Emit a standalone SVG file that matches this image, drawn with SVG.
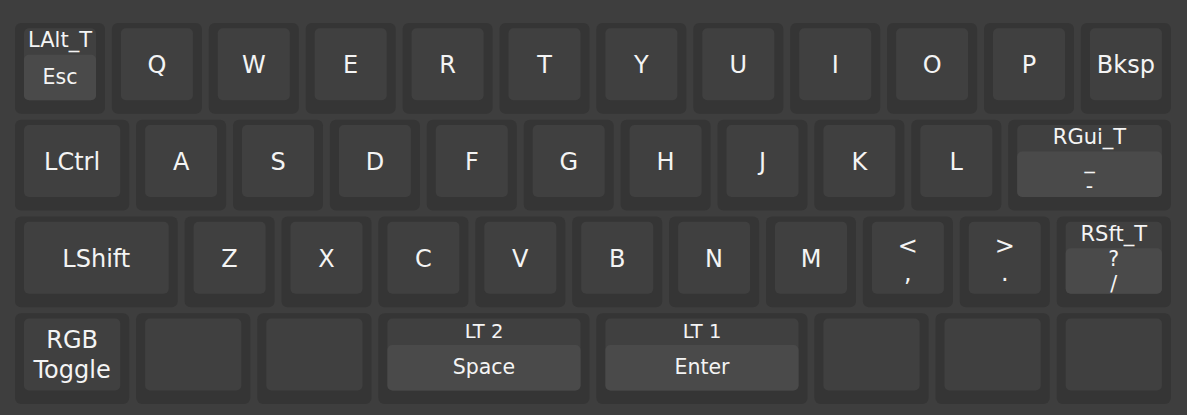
<svg xmlns="http://www.w3.org/2000/svg" width="1187" height="415" viewBox="0 0 1187 415">
<style>
.bg{fill:#3e3e3e}
.ko{fill:#353535}
.ki{fill:#404040}
.kh{fill:#4a4a4a}
text{font-family:"DejaVu Sans","Liberation Sans",sans-serif;fill:#f4f4f4;text-anchor:middle}
.t{font-size:24px}
.tm{font-size:24px}
.ts{font-size:20.5px}
.th{font-size:21px}
.tl{font-size:19.5px}
</style>
<rect class="bg" x="0" y="0" width="1187" height="415"/>
<g id="row1">
<g id="k-lalt"><rect class="ko" x="15" y="23" width="90" height="90.7" rx="6"/><rect class="ki" x="24" y="28.3" width="72" height="72" rx="5"/><rect class="kh" x="24" y="54.8" width="72" height="45.5" rx="5"/><text class="th" x="60" y="47.3">LAlt_T</text><text class="ts" x="60" y="83.6">Esc</text></g>
<g id="k-q"><rect class="ko" x="111.9" y="23" width="90" height="90.7" rx="6"/><rect class="ki" x="120.9" y="28.3" width="72" height="72" rx="5"/><text class="t" x="156.9" y="73">Q</text></g>
<g id="k-w"><rect class="ko" x="208.8" y="23" width="90" height="90.7" rx="6"/><rect class="ki" x="217.8" y="28.3" width="72" height="72" rx="5"/><text class="t" x="253.8" y="73">W</text></g>
<g id="k-e"><rect class="ko" x="305.7" y="23" width="90" height="90.7" rx="6"/><rect class="ki" x="314.7" y="28.3" width="72" height="72" rx="5"/><text class="t" x="350.7" y="73">E</text></g>
<g id="k-r"><rect class="ko" x="402.6" y="23" width="90" height="90.7" rx="6"/><rect class="ki" x="411.6" y="28.3" width="72" height="72" rx="5"/><text class="t" x="447.6" y="73">R</text></g>
<g id="k-t"><rect class="ko" x="499.5" y="23" width="90" height="90.7" rx="6"/><rect class="ki" x="508.5" y="28.3" width="72" height="72" rx="5"/><text class="t" x="544.5" y="73">T</text></g>
<g id="k-y"><rect class="ko" x="596.4" y="23" width="90" height="90.7" rx="6"/><rect class="ki" x="605.4" y="28.3" width="72" height="72" rx="5"/><text class="t" x="641.4" y="73">Y</text></g>
<g id="k-u"><rect class="ko" x="693.3" y="23" width="90" height="90.7" rx="6"/><rect class="ki" x="702.3" y="28.3" width="72" height="72" rx="5"/><text class="t" x="738.3" y="73">U</text></g>
<g id="k-i"><rect class="ko" x="790.2" y="23" width="90" height="90.7" rx="6"/><rect class="ki" x="799.2" y="28.3" width="72" height="72" rx="5"/><text class="t" x="835.2" y="73">I</text></g>
<g id="k-o"><rect class="ko" x="887.1" y="23" width="90" height="90.7" rx="6"/><rect class="ki" x="896.1" y="28.3" width="72" height="72" rx="5"/><text class="t" x="932.1" y="73">O</text></g>
<g id="k-p"><rect class="ko" x="984" y="23" width="90" height="90.7" rx="6"/><rect class="ki" x="993" y="28.3" width="72" height="72" rx="5"/><text class="t" x="1029" y="73">P</text></g>
<g id="k-bksp"><rect class="ko" x="1080.9" y="23" width="90" height="90.7" rx="6"/><rect class="ki" x="1089.9" y="28.3" width="72" height="72" rx="5"/><text class="t" x="1125.9" y="73">Bksp</text></g>
</g>
<g id="row2">
<g id="k-lctrl"><rect class="ko" x="15" y="119.7" width="114.2" height="90.7" rx="6"/><rect class="ki" x="24" y="125" width="96.2" height="72" rx="5"/><text class="t" x="72.1" y="169.8">LCtrl</text></g>
<g id="k-a"><rect class="ko" x="136.1" y="119.7" width="90" height="90.7" rx="6"/><rect class="ki" x="145.1" y="125" width="72" height="72" rx="5"/><text class="t" x="181.1" y="169.8">A</text></g>
<g id="k-s"><rect class="ko" x="233" y="119.7" width="90" height="90.7" rx="6"/><rect class="ki" x="242" y="125" width="72" height="72" rx="5"/><text class="t" x="278" y="169.8">S</text></g>
<g id="k-d"><rect class="ko" x="329.9" y="119.7" width="90" height="90.7" rx="6"/><rect class="ki" x="338.9" y="125" width="72" height="72" rx="5"/><text class="t" x="374.9" y="169.8">D</text></g>
<g id="k-f"><rect class="ko" x="426.8" y="119.7" width="90" height="90.7" rx="6"/><rect class="ki" x="435.8" y="125" width="72" height="72" rx="5"/><text class="t" x="471.8" y="169.8">F</text></g>
<g id="k-g"><rect class="ko" x="523.7" y="119.7" width="90" height="90.7" rx="6"/><rect class="ki" x="532.7" y="125" width="72" height="72" rx="5"/><text class="t" x="568.7" y="169.8">G</text></g>
<g id="k-h"><rect class="ko" x="620.6" y="119.7" width="90" height="90.7" rx="6"/><rect class="ki" x="629.6" y="125" width="72" height="72" rx="5"/><text class="t" x="665.6" y="169.8">H</text></g>
<g id="k-j"><rect class="ko" x="717.5" y="119.7" width="90" height="90.7" rx="6"/><rect class="ki" x="726.5" y="125" width="72" height="72" rx="5"/><text class="t" x="762.5" y="169.8">J</text></g>
<g id="k-k"><rect class="ko" x="814.4" y="119.7" width="90" height="90.7" rx="6"/><rect class="ki" x="823.4" y="125" width="72" height="72" rx="5"/><text class="t" x="859.4" y="169.8">K</text></g>
<g id="k-l"><rect class="ko" x="911.3" y="119.7" width="90" height="90.7" rx="6"/><rect class="ki" x="920.3" y="125" width="72" height="72" rx="5"/><text class="t" x="956.3" y="169.8">L</text></g>
<g id="k-rgui"><rect class="ko" x="1008.2" y="119.7" width="162.7" height="90.7" rx="6"/><rect class="ki" x="1017.2" y="125" width="144.7" height="72" rx="5"/><rect class="kh" x="1017.2" y="151.5" width="144.7" height="45.5" rx="5"/><text class="th" x="1089.5" y="144">RGui_T</text><text class="ts" x="1089.5" y="168">_</text><text class="ts" x="1089.5" y="193">-</text></g>
</g>
<g id="row3">
<g id="k-lshift"><rect class="ko" x="15" y="216.5" width="162.7" height="90.7" rx="6"/><rect class="ki" x="24" y="221.8" width="144.7" height="72" rx="5"/><text class="t" x="96.3" y="266.5">LShift</text></g>
<g id="k-z"><rect class="ko" x="184.6" y="216.5" width="90" height="90.7" rx="6"/><rect class="ki" x="193.6" y="221.8" width="72" height="72" rx="5"/><text class="t" x="229.6" y="266.5">Z</text></g>
<g id="k-x"><rect class="ko" x="281.5" y="216.5" width="90" height="90.7" rx="6"/><rect class="ki" x="290.5" y="221.8" width="72" height="72" rx="5"/><text class="t" x="326.5" y="266.5">X</text></g>
<g id="k-c"><rect class="ko" x="378.4" y="216.5" width="90" height="90.7" rx="6"/><rect class="ki" x="387.4" y="221.8" width="72" height="72" rx="5"/><text class="t" x="423.4" y="266.5">C</text></g>
<g id="k-v"><rect class="ko" x="475.3" y="216.5" width="90" height="90.7" rx="6"/><rect class="ki" x="484.3" y="221.8" width="72" height="72" rx="5"/><text class="t" x="520.3" y="266.5">V</text></g>
<g id="k-b"><rect class="ko" x="572.2" y="216.5" width="90" height="90.7" rx="6"/><rect class="ki" x="581.2" y="221.8" width="72" height="72" rx="5"/><text class="t" x="617.2" y="266.5">B</text></g>
<g id="k-n"><rect class="ko" x="669.1" y="216.5" width="90" height="90.7" rx="6"/><rect class="ki" x="678.1" y="221.8" width="72" height="72" rx="5"/><text class="t" x="714.1" y="266.5">N</text></g>
<g id="k-m"><rect class="ko" x="766" y="216.5" width="90" height="90.7" rx="6"/><rect class="ki" x="775" y="221.8" width="72" height="72" rx="5"/><text class="t" x="811" y="266.5">M</text></g>
<g id="k-comma"><rect class="ko" x="862.9" y="216.5" width="90" height="90.7" rx="6"/><rect class="ki" x="871.9" y="221.8" width="72" height="72" rx="5"/><text class="t" x="907.9" y="253.5">&lt;</text><text class="t" x="907.9" y="280.5">,</text></g>
<g id="k-dot"><rect class="ko" x="959.8" y="216.5" width="90" height="90.7" rx="6"/><rect class="ki" x="968.8" y="221.8" width="72" height="72" rx="5"/><text class="t" x="1004.8" y="253.5">&gt;</text><text class="t" x="1004.8" y="280.5">.</text></g>
<g id="k-rsft"><rect class="ko" x="1056.7" y="216.5" width="114.2" height="90.7" rx="6"/><rect class="ki" x="1065.7" y="221.8" width="96.2" height="72" rx="5"/><rect class="kh" x="1065.7" y="248.3" width="96.2" height="45.5" rx="5"/><text class="th" x="1113.8" y="240.8">RSft_T</text><text class="ts" x="1113.8" y="266.3">?</text><text class="ts" x="1113.8" y="290.8">/</text></g>
</g>
<g id="row4">
<g id="k-rgb"><rect class="ko" x="15" y="313.2" width="114.2" height="90.7" rx="6"/><rect class="ki" x="24" y="318.5" width="96.2" height="72" rx="5"/><text class="tm" x="72.1" y="348.3">RGB</text><text class="tm" x="72.1" y="377.7">Toggle</text></g>
<g id="k-blank1"><rect class="ko" x="136.1" y="313.2" width="114.2" height="90.7" rx="6"/><rect class="ki" x="145.1" y="318.5" width="96.2" height="72" rx="5"/></g>
<g id="k-blank2"><rect class="ko" x="257.3" y="313.2" width="114.2" height="90.7" rx="6"/><rect class="ki" x="266.3" y="318.5" width="96.2" height="72" rx="5"/></g>
<g id="k-space"><rect class="ko" x="378.4" y="313.2" width="211.1" height="90.7" rx="6"/><rect class="ki" x="387.4" y="318.5" width="193.1" height="72" rx="5"/><rect class="kh" x="387.4" y="345" width="193.1" height="45.5" rx="5"/><text class="tl" x="484" y="337.5">LT 2</text><text class="ts" x="484" y="374.3">Space</text></g>
<g id="k-enter"><rect class="ko" x="596.4" y="313.2" width="211.1" height="90.7" rx="6"/><rect class="ki" x="605.4" y="318.5" width="193.1" height="72" rx="5"/><rect class="kh" x="605.4" y="345" width="193.1" height="45.5" rx="5"/><text class="tl" x="702" y="337.5">LT 1</text><text class="ts" x="702" y="374.3">Enter</text></g>
<g id="k-blank3"><rect class="ko" x="814.4" y="313.2" width="114.2" height="90.7" rx="6"/><rect class="ki" x="823.4" y="318.5" width="96.2" height="72" rx="5"/></g>
<g id="k-blank4"><rect class="ko" x="935.5" y="313.2" width="114.2" height="90.7" rx="6"/><rect class="ki" x="944.5" y="318.5" width="96.2" height="72" rx="5"/></g>
<g id="k-blank5"><rect class="ko" x="1056.7" y="313.2" width="114.2" height="90.7" rx="6"/><rect class="ki" x="1065.7" y="318.5" width="96.2" height="72" rx="5"/></g>
</g>
<g id="connectors"/>
</svg>
